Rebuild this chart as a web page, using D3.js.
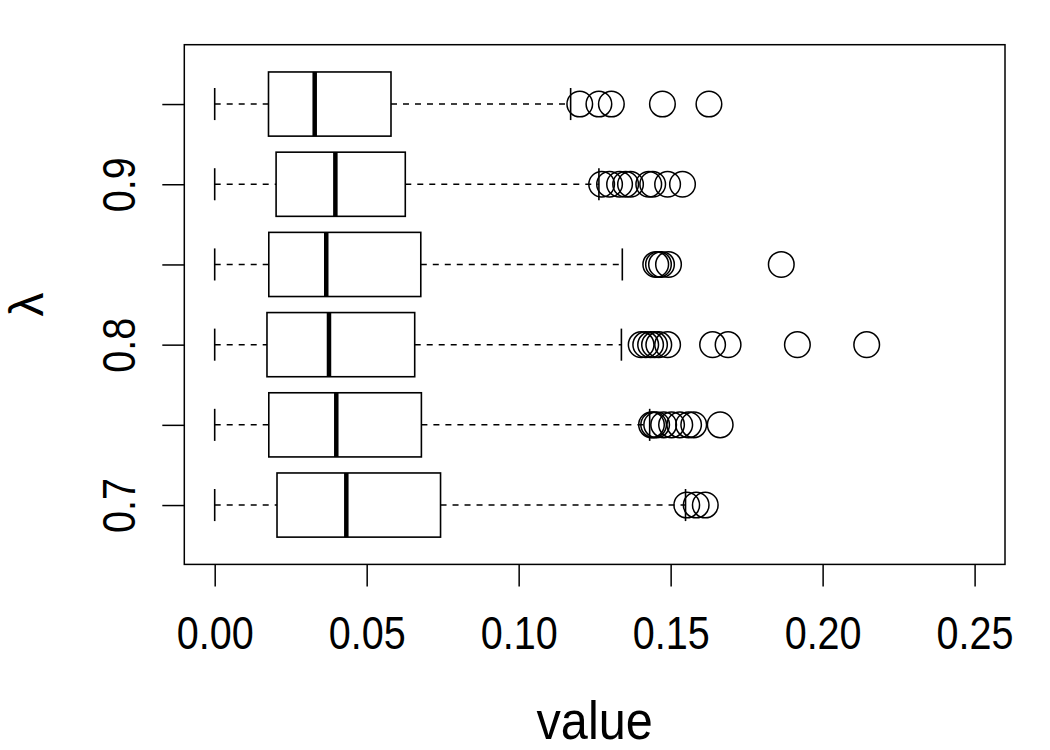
<!DOCTYPE html>
<html lang="en">
  <head>
    <meta charset="utf-8" />
    <script src="https://d3js.org/d3.v7.min.js"></script>
    <style>
      body {
        margin: 0;
        background-color: #fff;
      }
      svg text {
        font-family: "Liberation Sans", Arial, sans-serif;
        fill: #000;
      }
    </style>
  </head>
  <body>
    <div id="chart"></div>

    <script>
      const width = 1050;
      const height = 750;

      // lambda values, bottom to top
      const lambdas = ["0.7", "0.75", "0.8", "0.85", "0.9", "0.95"];
      const lowWhisker = [0, 0, 0, 0, 0, 0];
      const q1 = [0.0205, 0.0178, 0.0172, 0.0178, 0.0202, 0.0177];
      const medians = [0.0433, 0.04, 0.0376, 0.0367, 0.0397, 0.0329];
      const q3 = [0.0743, 0.068, 0.0658, 0.0678, 0.0627, 0.058];
      const highWhisker = [0.1549, 0.1431, 0.1338, 0.1341, 0.1264, 0.1171];
      const outliers = [
        [0.1553, 0.1584, 0.1614],
        [0.1437, 0.1444, 0.1454, 0.1477, 0.1503, 0.153, 0.1559, 0.1576, 0.1663],
        [0.1403, 0.1418, 0.1434, 0.1447, 0.1461, 0.149, 0.1638, 0.1689, 0.1917, 0.2145],
        [0.1451, 0.146, 0.147, 0.1493, 0.1864],
        [0.1273, 0.1299, 0.1332, 0.1352, 0.1368, 0.1428, 0.1441, 0.149, 0.1539],
        [0.1201, 0.1264, 0.1305, 0.1473, 0.1626]
      ];
      const xTicks = [0, 0.05, 0.1, 0.15, 0.2, 0.25];
      const yLabelled = ["0.7", "0.8", "0.9"];

      const plotLeft = 184.3, plotRight = 1005, plotTop = 44.7, plotBottom = 564.4;
      const narrow = 0.86; // the original font is a little condensed

      const svg = d3
        .select("#chart")
        .append("svg")
        .attr("width", width)
        .attr("height", height);

      const x = d3.scaleLinear().domain([-0.01, 0.26]).range([plotLeft, plotRight]);
      const y = d3.scaleLinear().domain([0.26, 6.74]).range([plotBottom, plotTop]);
      const pos = (i) => y(i + 1);
      const halfBox = y(1) - y(1.4);
      const halfCap = halfBox / 2;

      const boxes = lambdas.map((l, i) => ({
        i: i,
        lo: lowWhisker[i],
        q1: q1[i],
        med: medians[i],
        q3: q3[i],
        hi: highWhisker[i],
        out: outliers[i]
      }));

      const g = svg.selectAll("g.box").data(boxes).join("g").attr("class", "box");

      // whiskers
      g.append("line")
        .attr("x1", (d) => x(d.lo))
        .attr("x2", (d) => x(d.q1))
        .attr("y1", (d) => pos(d.i))
        .attr("y2", (d) => pos(d.i))
        .attr("stroke", "#000")
        .attr("stroke-width", 1.5)
        .attr("stroke-dasharray", "6,6");
      g.append("line")
        .attr("x1", (d) => x(d.q3))
        .attr("x2", (d) => x(d.hi))
        .attr("y1", (d) => pos(d.i))
        .attr("y2", (d) => pos(d.i))
        .attr("stroke", "#000")
        .attr("stroke-width", 1.5)
        .attr("stroke-dasharray", "6,6");

      // staples
      ["lo", "hi"].forEach((k) => {
        g.append("line")
          .attr("x1", (d) => x(d[k]))
          .attr("x2", (d) => x(d[k]))
          .attr("y1", (d) => pos(d.i) - halfCap)
          .attr("y2", (d) => pos(d.i) + halfCap)
          .attr("stroke", "#000")
          .attr("stroke-width", 1.6);
      });

      // box
      g.append("rect")
        .attr("x", (d) => x(d.q1))
        .attr("width", (d) => x(d.q3) - x(d.q1))
        .attr("y", (d) => pos(d.i) - halfBox)
        .attr("height", halfBox * 2)
        .attr("fill", "#fff")
        .attr("stroke", "#000")
        .attr("stroke-width", 1.6);

      // median
      g.append("line")
        .attr("x1", (d) => x(d.med))
        .attr("x2", (d) => x(d.med))
        .attr("y1", (d) => pos(d.i) - halfBox)
        .attr("y2", (d) => pos(d.i) + halfBox)
        .attr("stroke", "#000")
        .attr("stroke-width", 4.5);

      // outliers
      g.selectAll("circle")
        .data((d) => d.out.map((v) => ({ v: v, i: d.i })))
        .join("circle")
        .attr("cx", (d) => x(d.v))
        .attr("cy", (d) => pos(d.i))
        .attr("r", 12.8)
        .attr("fill", "none")
        .attr("stroke", "#000")
        .attr("stroke-width", 1.5);

      // frame
      svg.append("rect")
        .attr("x", plotLeft)
        .attr("y", plotTop)
        .attr("width", plotRight - plotLeft)
        .attr("height", plotBottom - plotTop)
        .attr("fill", "none")
        .attr("stroke", "#000")
        .attr("stroke-width", 1.5);

      // x axis
      const xAxis = svg.append("g")
        .attr("transform", `translate(0,${plotBottom})`)
        .call(d3.axisBottom(x).tickValues(xTicks).tickFormat(d3.format(".2f")).tickSize(22).tickPadding(30));
      xAxis.select(".domain").remove();
      xAxis.selectAll("line").attr("stroke-width", 1.5);
      xAxis.selectAll("text")
        .attr("transform", `scale(${narrow},1)`)
        .style("font-size", "46px")
        .style("font-family", "'Liberation Sans', Arial, sans-serif");

      // y axis
      const yAxis = svg.append("g")
        .attr("transform", `translate(${plotLeft},0)`)
        .call(
          d3.axisLeft(y)
            .tickValues(lambdas.map((l, i) => i + 1))
            .tickFormat((d) => (yLabelled.includes(lambdas[d - 1]) ? lambdas[d - 1] : ""))
            .tickSize(22)
        );
      yAxis.select(".domain").remove();
      yAxis.selectAll("line").attr("stroke-width", 1.5);
      yAxis.selectAll("text")
        .attr("x", null)
        .attr("dy", null)
        .attr("transform", `translate(-49,0) rotate(-90) scale(${narrow},1)`)
        .attr("text-anchor", "middle")
        .style("font-size", "46px")
        .style("font-family", "'Liberation Sans', Arial, sans-serif");

      // axis titles
      svg.append("text")
        .attr("transform", `translate(${(plotLeft + plotRight) / 2},739) scale(0.9,1)`)
        .attr("text-anchor", "middle")
        .style("font-size", "54px")
        .text("value");

      svg.append("text")
        .attr("transform", `translate(43,${(plotTop + plotBottom) / 2}) rotate(-90)`)
        .attr("text-anchor", "middle")
        .style("font-size", "48px")
        .text("λ");
    </script>
  </body>
</html>
